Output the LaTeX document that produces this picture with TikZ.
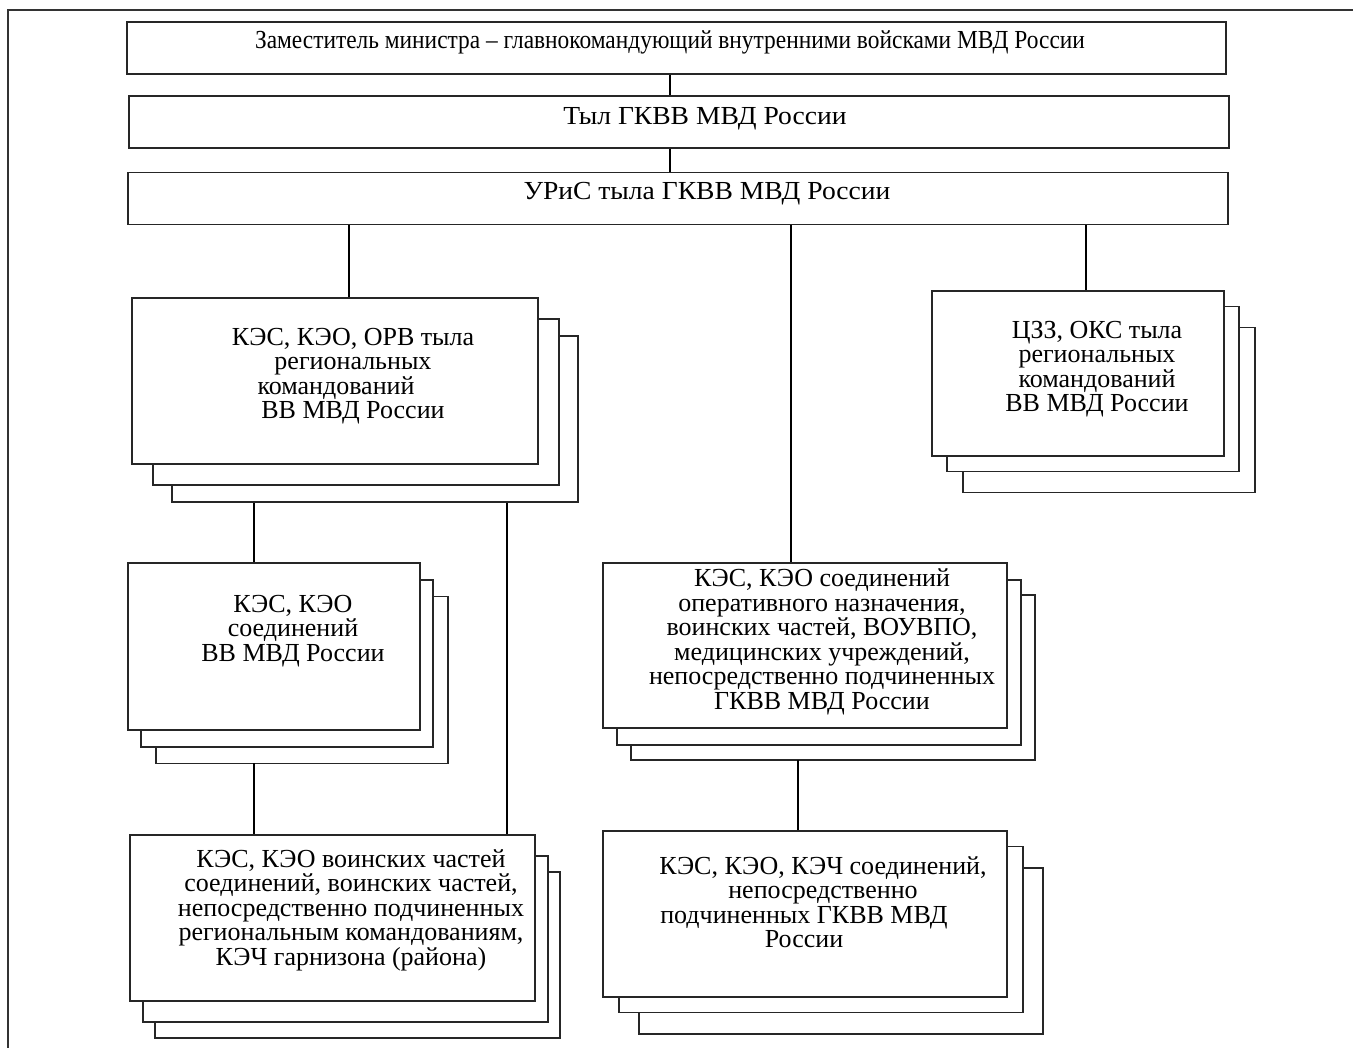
\documentclass[tikz,border=0pt]{standalone}
\usepackage{fontspec}
\setmainfont{Liberation Serif}
\newfontfamily\narrowrm[FakeStretch=0.9]{Liberation Serif}
\newfontfamily\widerm[FakeStretch=1.06]{Liberation Serif}
\usetikzlibrary{positioning,shadows}

\tikzset{
  frame/.style={draw=black!80, line width=0.8pt},
  bar/.style={draw=black!85, line width=0.7pt, fill=white, inner sep=0pt},
  stack/.style n args={4}{bar,
    copy shadow={shadow xshift=#1, shadow yshift=#2, draw=black!85, fill=white, line width=0.7pt},
    copy shadow={shadow xshift=#3, shadow yshift=#4, draw=black!85, fill=white, line width=0.7pt}},
  lbl/.style={align=center, inner sep=0pt, font=\fontsize{13pt}{12.25pt}\selectfont},
  link/.style={draw, line width=1.3pt}
}

\begin{document}
\begin{tikzpicture}[x=0.5pt,y=-0.5pt]
  \useasboundingbox (0,0) rectangle (1353,1048);
  \draw[frame] (1353,10) -- (8,10) -- (8,1048);

  % top
  \node[bar, minimum width=549.5pt, minimum height=26pt] (zam) at (676.5,48) {};
  \node[bar, minimum width=550pt, minimum height=26pt] (tyl) at (679,122) {};
  \node[bar, minimum width=550pt, minimum height=26pt] (uris) at (678,198.5) {};
  \node[lbl, anchor=base] (tzam) at (670,49) {\narrowrm Заместитель министра – главнокомандующий внутренними войсками МВД России};
  \node[lbl, anchor=base] (ttyl) at (705,125) {\widerm Тыл ГКВВ МВД России};
  \node[lbl, anchor=base] (turis) at (707,200) {\widerm УРиС тыла ГКВВ МВД России};

  % stacks
  \node[stack={20pt}{-19pt}{10.5pt}{-10.5pt}, minimum width=203pt, minimum height=83pt] (reg) at (335,381) {};
  \node[stack={15.5pt}{-18.25pt}{7.5pt}{-7.75pt}, minimum width=146pt, minimum height=82.5pt] (czz) at (1078,373.5) {};
  \node[stack={14pt}{-16.75pt}{6.5pt}{-8.5pt}, minimum width=146pt, minimum height=83.5pt] (soed) at (274,646.5) {};
  \node[stack={14pt}{-16pt}{7pt}{-8.5pt}, minimum width=202pt, minimum height=82.5pt] (oper) at (805,645.5) {};
  \node[stack={12.5pt}{-18.5pt}{6.5pt}{-10.5pt}, minimum width=202.5pt, minimum height=83pt] (chast) at (332.5,918) {};
  \node[stack={18pt}{-18.5pt}{8pt}{-7.75pt}, minimum width=202pt, minimum height=83pt] (kech) at (805,914) {};

  \node[lbl] (treg) at (353,376) {КЭС, КЭО, ОРВ тыла\\региональных\\командований\hspace*{17pt}\mbox{}\\ВВ МВД России};
  \node[lbl] (tczz) at (1097,369) {ЦЗЗ, ОКС тыла\\региональных\\командований\\ВВ МВД России};
  \node[lbl] (tsoed) at (293,631) {КЭС, КЭО\\соединений\\ВВ МВД России};
  \node[lbl] (toper) at (822,642) {КЭС, КЭО соединений\\оперативного назначения,\\воинских частей, ВОУВПО,\\медицинских учреждений,\\непосредственно подчиненных\\ГКВВ МВД России};
  \node[lbl] (tchast) at (351,910) {КЭС, КЭО воинских частей\\соединений, воинских частей,\\непосредственно подчиненных\\региональным командованиям,\\КЭЧ гарнизона (района)};
  \node[lbl] (tkech) at (823,902) {КЭС, КЭО, КЭЧ соединений,\\непосредственно\\подчиненных ГКВВ МВД\hspace*{19pt}\mbox{}\\России\hspace*{19pt}\mbox{}};

  % stack ends
  \coordinate (regend) at (254,503);
  \coordinate (regend2) at (507,503);
  \coordinate (soedend) at (254,763);
  \coordinate (operend) at (798,760);

  \draw[link] (zam.south -| 670,0) -- (tyl.north -| 670,0);
  \draw[link] (tyl.south -| 670,0) -- (uris.north -| 670,0);
  \draw[link] (uris.south -| 349,0) -- (reg.north -| 349,0);
  \draw[link] (uris.south -| 791,0) -- (oper.north -| 791,0);
  \draw[link] (uris.south -| 1086,0) -- (czz.north -| 1086,0);
  \draw[link] (regend) -- (regend |- soed.north);
  \draw[link] (regend2) -- (regend2 |- chast.north);
  \draw[link] (soedend) -- (soedend |- chast.north);
  \draw[link] (operend) -- (operend |- kech.north);
\end{tikzpicture}
\end{document}
